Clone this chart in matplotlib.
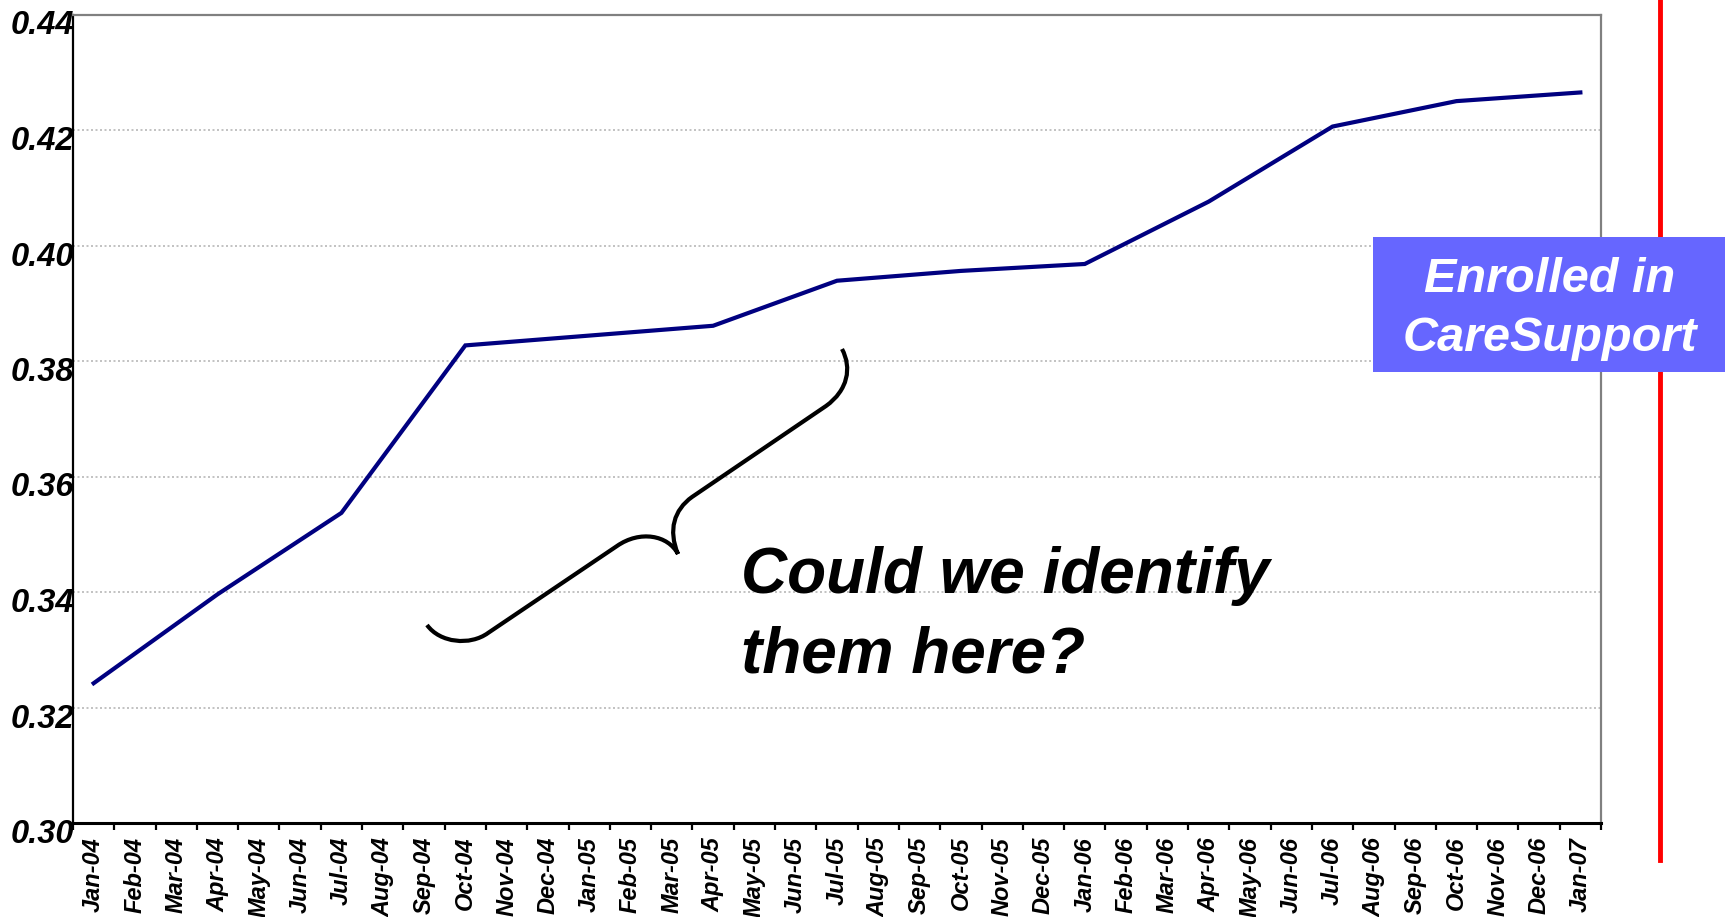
import matplotlib

matplotlib.use("Agg")
import matplotlib.pyplot as plt
import numpy as np
from matplotlib.patches import PathPatch, Rectangle
from matplotlib.path import Path
from matplotlib.lines import Line2D
from matplotlib import transforms

plt.rcParams["font.family"] = ["Liberation Sans", "DejaVu Sans"]

months = [
    "Jan-04", "Feb-04", "Mar-04", "Apr-04", "May-04", "Jun-04", "Jul-04",
    "Aug-04", "Sep-04", "Oct-04", "Nov-04", "Dec-04", "Jan-05", "Feb-05",
    "Mar-05", "Apr-05", "May-05", "Jun-05", "Jul-05", "Aug-05", "Sep-05",
    "Oct-05", "Nov-05", "Dec-05", "Jan-06", "Feb-06", "Mar-06", "Apr-06",
    "May-06", "Jun-06", "Jul-06", "Aug-06", "Sep-06", "Oct-06", "Nov-06",
    "Dec-06", "Jan-07",
]
# quarterly readings (the line only bends at these months)
point_months = ["Jan-04", "Apr-04", "Jul-04", "Oct-04", "Jan-05", "Apr-05",
                "Jul-05", "Oct-05", "Jan-06", "Apr-06", "Jul-06", "Oct-06",
                "Jan-07"]
point_values = [0.3242, 0.3396, 0.3537, 0.3827, 0.3844, 0.3861,
                0.3939, 0.3956, 0.3968, 0.4076, 0.4206, 0.4250, 0.4265]
y_ticks = [0.30, 0.32, 0.34, 0.36, 0.38, 0.40, 0.42, 0.44]

W, H = 1731, 917
fig = plt.figure(figsize=(W / 100, H / 100), dpi=100)


def fx(px):
    return px / W


def fy(py):
    return 1 - py / H


left, right, top, bottom = 73, 1601, 14.5, 823
ax = fig.add_axes([fx(left), fy(bottom), fx(right - left), (bottom - top) / H])

xs = [months.index(m) for m in point_months]
ax.plot(xs, point_values, color="#000080", linewidth=3.0, solid_joinstyle="miter")

ax.set_xlim(-0.5, len(months) - 0.5)
ax.set_ylim(0.30, 0.44)
ax.set_yticks(y_ticks)
ax.set_yticklabels([f"{v:.2f}" for v in y_ticks])
ax.set_xticks(range(len(months)))
ax.set_xticklabels(months, rotation=90)
ax.set_xticks(np.arange(-0.5, len(months)), minor=True)

ax.tick_params(axis="y", length=0, pad=-1, labelsize=23.5)
ax.tick_params(axis="x", which="major", length=0, pad=10, labelsize=17)
ax.tick_params(axis="x", which="minor", length=5, width=1.6, color="black")
for lab in ax.get_yticklabels() + ax.get_xticklabels():
    lab.set_fontweight("bold")
    lab.set_fontstyle("italic")
shift = transforms.ScaledTranslation(0, -8 / 100, fig.dpi_scale_trans)
for lab in ax.get_yticklabels():
    lab.set_transform(lab.get_transform() + shift)

for v in y_ticks[1:-1]:
    ax.axhline(v, color="#b8b8b8", linewidth=1.2, linestyle=(0, (1.2, 1.5)), zorder=0)

ax.spines["left"].set_color("black")
ax.spines["left"].set_linewidth(1.6)
ax.spines["bottom"].set_color("black")
ax.spines["bottom"].set_linewidth(2.2)
for s in ("top", "right"):
    ax.spines[s].set_color("#808080")
    ax.spines[s].set_linewidth(1.6)

# curly brace (pixel coordinates of the picture)
brace = [
    (427, 625), (440, 643), (470, 646), (488, 633),
    (617, 546), (640, 530), (668, 535), (678, 554),
    (668, 530), (674, 510), (692, 497),
    (826, 406), (848, 390), (852, 368), (842, 349),
]
codes = [Path.MOVETO, Path.CURVE4, Path.CURVE4, Path.CURVE4,
         Path.LINETO, Path.CURVE4, Path.CURVE4, Path.CURVE4,
         Path.CURVE4, Path.CURVE4, Path.CURVE4,
         Path.LINETO, Path.CURVE4, Path.CURVE4, Path.CURVE4]
verts = [(fx(x), fy(y)) for x, y in brace]
fig.add_artist(PathPatch(Path(verts, codes), facecolor="none", edgecolor="black",
                         linewidth=3.0, transform=fig.transFigure, capstyle="butt"))

fig.text(fx(741), fy(616), "Could we identify\nthem here?", fontsize=46,
         fontweight="bold", fontstyle="italic", ha="left", va="center",
         linespacing=1.42)

# enrollment marker
fig.add_artist(Line2D([fx(1660), fx(1660)], [fy(0), fy(860)], color="#ff0000",
                      linewidth=3.5, transform=fig.transFigure, zorder=2))
fig.add_artist(Rectangle((fx(1373), fy(372)), fx(1725 - 1373), (372 - 237) / H,
                         facecolor="#6666ff", edgecolor="none",
                         transform=fig.transFigure, zorder=3))
fig.text(fx(1550), fy(309), "Enrolled in\nCareSupport", fontsize=35, color="white",
         fontweight="bold", fontstyle="italic", ha="center", va="center",
         linespacing=1.42, zorder=4)

fig.savefig("out.png", dpi=100)
